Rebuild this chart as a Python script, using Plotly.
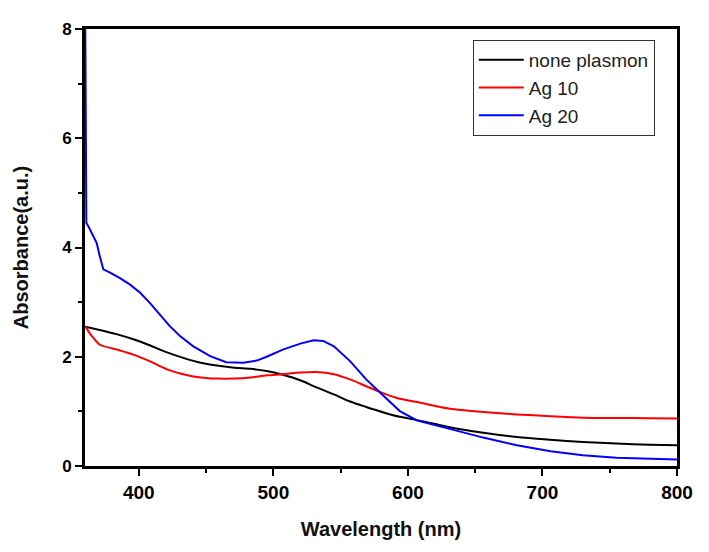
import plotly.graph_objects as go

# none plasmon
wl_black = [360, 371, 384, 396, 408, 421, 433, 446, 458, 471, 483, 495, 507, 520, 532, 545, 557, 569, 582, 594, 607, 622, 631, 656, 681, 706, 730, 755, 780, 800]
abs_black = [2.55, 2.49, 2.41, 2.32, 2.21, 2.08, 1.98, 1.89, 1.84, 1.80, 1.78, 1.74, 1.67, 1.57, 1.44, 1.31, 1.18, 1.08, 0.98, 0.90, 0.84, 0.76, 0.71, 0.61, 0.53, 0.48, 0.44, 0.41, 0.39, 0.38]

# Ag 10
wl_red = [360, 365, 371, 384, 396, 408, 421, 433, 446, 458, 471, 483, 495, 507, 520, 532, 545, 557, 569, 582, 594, 607, 622, 631, 656, 681, 706, 730, 755, 780, 800]
abs_red = [2.56, 2.38, 2.22, 2.13, 2.04, 1.92, 1.77, 1.68, 1.62, 1.60, 1.60, 1.62, 1.66, 1.68, 1.71, 1.72, 1.68, 1.585, 1.46, 1.33, 1.23, 1.17, 1.09, 1.05, 0.99, 0.945, 0.91, 0.885, 0.88, 0.875, 0.87]

# Ag 20
wl_blue = [360, 361, 362.5, 365, 368.7, 371, 373.6, 378.6, 386, 393.5, 401, 408, 415.8, 423, 430.6, 440.5, 453, 465, 477.7, 487.6, 495, 507, 520, 530, 537, 545, 557, 569, 582, 594, 607, 622, 631, 656, 681, 706, 730, 755, 780, 800]
abs_blue = [9.0, 4.45, 4.39, 4.27, 4.08, 3.84, 3.60, 3.54, 3.44, 3.32, 3.17, 2.99, 2.77, 2.56, 2.38, 2.19, 2.01, 1.90, 1.89, 1.93, 2.00, 2.13, 2.24, 2.30, 2.29, 2.19, 1.92, 1.585, 1.28, 1.005, 0.83, 0.74, 0.68, 0.52, 0.38, 0.27, 0.195, 0.15, 0.13, 0.12]

x_ticks = [400, 500, 600, 700, 800]
y_ticks = [0, 2, 4, 6, 8]

fig = go.Figure()
fig.add_trace(go.Scatter(x=wl_black, y=abs_black, mode="lines", name="none plasmon",
                         line=dict(color="black", width=2, shape="spline", smoothing=0.8)))
fig.add_trace(go.Scatter(x=wl_red, y=abs_red, mode="lines", name="Ag 10",
                         line=dict(color="#FF0000", width=2, shape="spline", smoothing=0.6)))
fig.add_trace(go.Scatter(x=wl_blue, y=abs_blue, mode="lines", name="Ag 20",
                         line=dict(color="#0000FF", width=2)))

xtick_font = dict(family="Arial, Liberation Sans", size=19, color="black")
ytick_font = dict(family="Arial, Liberation Sans", size=17, color="black")
title_font = dict(family="Arial, Liberation Sans", size=20, color="#111111")

fig.update_layout(
    width=701, height=544,
    margin=dict(l=77, r=32, t=21, b=86),
    paper_bgcolor="white", plot_bgcolor="white",
    showlegend=True,
    legend=dict(x=0.655, y=0.975, xanchor="left", yanchor="top",
                bgcolor="white", bordercolor="#333333", borderwidth=1,
                font=dict(family="Arial, Liberation Sans", size=19, color="#222222"),
                tracegroupgap=0, itemwidth=45),
    xaxis=dict(range=[360, 800], tickvals=x_ticks, ticktext=[f"<b>{v}</b>" for v in x_ticks],
               showline=True, linecolor="black", linewidth=3, mirror=True,
               ticks="outside", ticklen=7, tickwidth=2, tickcolor="black",
               minor=dict(tickvals=[450, 550, 650, 750], ticks="outside", ticklen=4, tickwidth=2, tickcolor="black"),
               showgrid=False, zeroline=False, tickfont=xtick_font,
               title=dict(text="<b>Wavelength (nm)</b>", font=title_font, standoff=21)),
    yaxis=dict(range=[0, 8], tickvals=y_ticks, ticktext=[f"<b>{v}</b>" for v in y_ticks],
               showline=True, linecolor="black", linewidth=3, mirror=True,
               ticks="outside", ticklen=7, tickwidth=2, tickcolor="black",
               minor=dict(tickvals=[1, 3, 5, 7], ticks="outside", ticklen=4, tickwidth=2, tickcolor="black"),
               showgrid=False, zeroline=False, tickfont=ytick_font,
               title=dict(text="<b>Absorbance(a.u.)</b>", font=title_font, standoff=29)),
)

fig.write_html("out.html")
